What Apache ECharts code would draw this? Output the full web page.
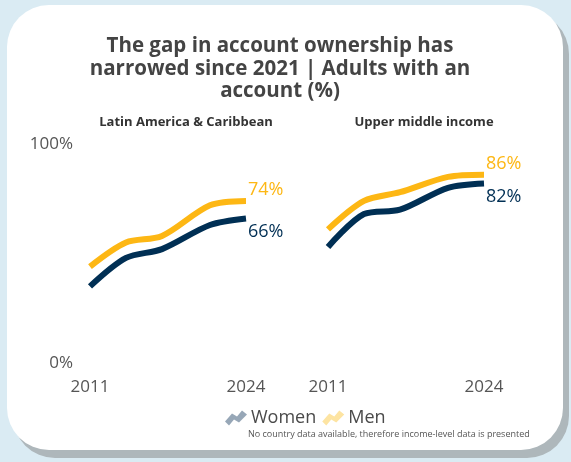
<!DOCTYPE html>
<html>
<head>
<meta charset="utf-8">
<script src="https://cdn.jsdelivr.net/npm/echarts@6/dist/echarts.min.js"></script>
<style>
html,body{margin:0;padding:0;background:#daebf3;}
#c{width:571px;height:462px;}
</style>
</head>
<body>
<div id="c"></div>
<script>
const years = [2011, 2014, 2017, 2021, 2024];
const lacWomen = [35, 48, 52, 63, 66];
const lacMen = [44, 55, 58, 72, 74];
const umiWomen = [53, 68, 70, 80, 82];
const umiMen = [61, 74, 78, 85, 86];
const panelTitles = ['Latin America & Caribbean', 'Upper middle income'];
const xTicks = [2011, 2024];
const titleText = 'The gap in account ownership has\nnarrowed since 2021 | Adults with an\naccount (%)';
const footnote = 'No country data available, therefore income-level data is presented';

const NAVY = '#002f54';
const GOLD = '#fdb714';
const FONT = '"Open Sans", sans-serif';

const pairs = (vals) => years.map((y, i) => [y, vals[i]]);

function mkSeries(name, vals, idx, color, dy) {
  return {
    name: name,
    type: 'line',
    xAxisIndex: idx,
    yAxisIndex: idx,
    data: pairs(vals),
    smooth: 0.3,
    showSymbol: false,
    symbol: 'none',
    silent: true,
    lineStyle: { color: color, width: 6, cap: 'butt' },
    itemStyle: { color: color },
    endLabel: {
      show: true,
      formatter: (p) => p.value[1] + '%',
      color: color,
      fontFamily: FONT,
      fontSize: 18,
      distance: 2,
      offset: [0, dy]
    }
  };
}

const zigzag = 'path://M0,11 L7,3 L12,6 L17,0 L22,4 L14,12 L9,9 L4,15 Z';

const chart = echarts.init(document.getElementById('c'), null, { renderer: 'canvas' });
chart.setOption({
  backgroundColor: '#daebf3',
  animation: false,
  graphic: [
    { type: 'rect', z: -10, shape: { x: 13, y: 12, width: 556, height: 446, r: 42 }, style: { fill: '#aeb7bb' } },
    { type: 'rect', z: -9, shape: { x: 7, y: 5, width: 556, height: 445, r: 42 }, style: { fill: '#ffffff' } }
  ],
  title: [
    { text: titleText, left: 280, top: 35, textAlign: 'center', padding: 0,
      textStyle: { fontFamily: FONT, fontSize: 20.5, fontWeight: 'bold', color: '#444444', lineHeight: 22.5 } },
    { text: panelTitles[0], left: 186, top: 116, textAlign: 'center', padding: 0,
      textStyle: { fontFamily: FONT, fontSize: 13, fontWeight: 'bold', color: '#333333' } },
    { text: panelTitles[1], left: 424, top: 116, textAlign: 'center', padding: 0,
      textStyle: { fontFamily: FONT, fontSize: 13, fontWeight: 'bold', color: '#333333' } },
    { text: footnote, left: 248, top: 430, padding: 0,
      textStyle: { fontFamily: FONT, fontSize: 9, fontWeight: 'normal', color: '#555555' } }
  ],
  legend: {
    left: 225, top: 409, padding: 0,
    itemWidth: 22, itemHeight: 15, itemGap: 6,
    selectedMode: false,
    textStyle: { fontFamily: FONT, fontSize: 18, color: '#4a4a4a', padding: [0, 0, 0, -1] },
    data: [
      { name: 'Women', icon: zigzag, itemStyle: { color: '#97a7b7' }, lineStyle: { color: '#97a7b7', width: 0 } },
      { name: 'Men', icon: zigzag, itemStyle: { color: '#fde4a2' }, lineStyle: { color: '#fde4a2', width: 0 } }
    ]
  },
  grid: [
    { left: 90, top: 144, width: 156, height: 219 },
    { left: 328, top: 144, width: 156, height: 219 }
  ],
  xAxis: [0, 1].map(i => ({
    type: 'value', gridIndex: i, min: 2011, max: 2024,
    axisLine: { show: false }, axisTick: { show: false }, splitLine: { show: false },
    axisLabel: { customValues: xTicks, formatter: v => String(v), fontFamily: FONT, fontSize: 17, color: '#555555', margin: 16 }
  })),
  yAxis: [0, 1].map(i => ({
    type: 'value', gridIndex: i, min: 0, max: 100, interval: 100,
    axisLine: { show: false }, axisTick: { show: false }, splitLine: { show: false },
    axisLabel: { show: i === 0, formatter: v => v + '%', fontFamily: FONT, fontSize: 17, color: '#555555', margin: 17 }
  })),
  series: [
    mkSeries('Women', lacWomen, 0, NAVY, 13),
    mkSeries('Men', lacMen, 0, GOLD, -11),
    mkSeries('Women', umiWomen, 1, NAVY, 13),
    mkSeries('Men', umiMen, 1, GOLD, -11)
  ]
});
</script>
</body>
</html>
